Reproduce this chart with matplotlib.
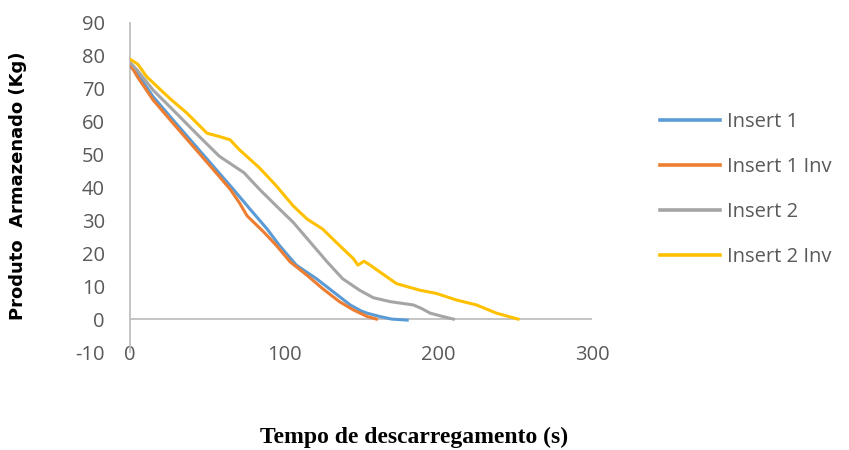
import matplotlib
matplotlib.use("Agg")
import matplotlib.pyplot as plt

# Data
x_ins1 = [0, 5, 15, 28, 41, 54, 67, 78, 89, 97, 108, 121, 132, 143, 150, 154, 162, 170, 180]
y_ins1 = [77, 74.5, 67.6, 60.5, 53.5, 46.5, 39.5, 33.4, 27.4, 22.4, 16.4, 12.3, 8.3, 4.3, 2.5, 1.8, 0.8, 0, -0.3]

x_ins1inv = [0, 5, 15, 28, 41, 54, 65, 71, 76, 87, 95, 104, 115, 125, 136, 145, 154, 160]
y_ins1inv = [77.5, 73.5, 66.6, 59.5, 52.5, 45.5, 39.5, 35.4, 31.4, 26.4, 22.4, 17.4, 13.3, 9.3, 5.3, 2.8, 0.8, 0]

x_ins2 = [0, 5, 15, 30, 45, 58, 66, 74, 84, 95, 106, 117, 128, 138, 149, 158, 169, 184, 189, 195, 203, 210]
y_ins2 = [78, 75.5, 69.6, 62.6, 55.5, 49.5, 47, 44.5, 39.5, 34.4, 29.4, 23.4, 17.4, 12.3, 8.8, 6.5, 5.3, 4.3, 3.3, 1.8, 0.8, 0]

x_ins2inv = [0, 5, 11, 26, 37, 50, 58, 65, 71, 84, 95, 106, 115, 125, 136, 145, 148, 152, 156, 162, 173, 188, 199, 212, 225, 238, 252]
y_ins2inv = [79, 77.5, 73.6, 67, 62.6, 56.5, 55.5, 54.5, 51.5, 46, 40.5, 34.4, 30.4, 27.4, 22.4, 18.4, 16.4, 17.6, 16.4, 14.4, 10.8, 8.8, 7.8, 5.8, 4.3, 1.8, 0]

series_names = ["Insert 1", "Insert 1 Inv", "Insert 2", "Insert 2 Inv"]
series_colors = ["#5B9BD5", "#ED7D31", "#A5A5A5", "#FFC000"]
x_ticks = [0, 100, 200, 300]
y_ticks = [-10, 0, 10, 20, 30, 40, 50, 60, 70, 80, 90]

fig = plt.figure(figsize=(8.49, 4.50), dpi=100)
ax = fig.add_axes([130/849, 1-352/450, (592-130)/849, (352-23)/450])

tick_font = "Open Sans"
tick_size = 14.5
series = [(x_ins1, y_ins1), (x_ins1inv, y_ins1inv), (x_ins2, y_ins2), (x_ins2inv, y_ins2inv)]
for (xs, ys), name, col in zip(series, series_names, series_colors):
    ax.plot(xs, ys, color=col, lw=2.2, label=name, solid_joinstyle="round", zorder=3)

ax.axhline(0, color="#BFBFBF", lw=1.3, zorder=2)
ax.set_xlim(0, 300)
ax.set_ylim(-10, 90)
ax.set_xticks(x_ticks)
ax.set_yticks(y_ticks)
ax.set_xticklabels([str(v) for v in x_ticks], fontfamily=tick_font, fontsize=tick_size, color="#595959")
ax.set_yticklabels([str(v) for v in y_ticks], fontfamily=tick_font, fontsize=tick_size, color="#595959")
ax.tick_params(axis="both", length=0)
ax.tick_params(axis="y", pad=18)
ax.tick_params(axis="x", pad=-5)
for s in ["top", "right", "bottom"]:
    ax.spines[s].set_visible(False)
ax.spines["left"].set_color("#BFBFBF")
ax.spines["left"].set_linewidth(1.3)

fig.text(18/849, 1-186/450, "Produto  Armazenado (Kg)", rotation=90, ha="center", va="center",
         fontsize=13, fontweight="bold", family=["Liberation Sans Narrow", "DejaVu Sans"])
fig.text(414/849, 1-437/450, "Tempo de descarregamento (s)", ha="center", va="center",
         fontsize=17, fontweight="bold", family=["Liberation Serif", "DejaVu Serif"])

leg = fig.legend(loc="center left", bbox_to_anchor=(660/849, 1-189.5/450), frameon=False,
                 borderpad=0, borderaxespad=0, handlelength=3.0, handletextpad=0.35,
                 labelspacing=1.25, prop={"family": tick_font, "size": tick_size})
for t in leg.get_texts():
    t.set_color("#595959")
for h in leg.get_lines():
    h.set_linewidth(2.6)

fig.savefig("out.png", dpi=100)
